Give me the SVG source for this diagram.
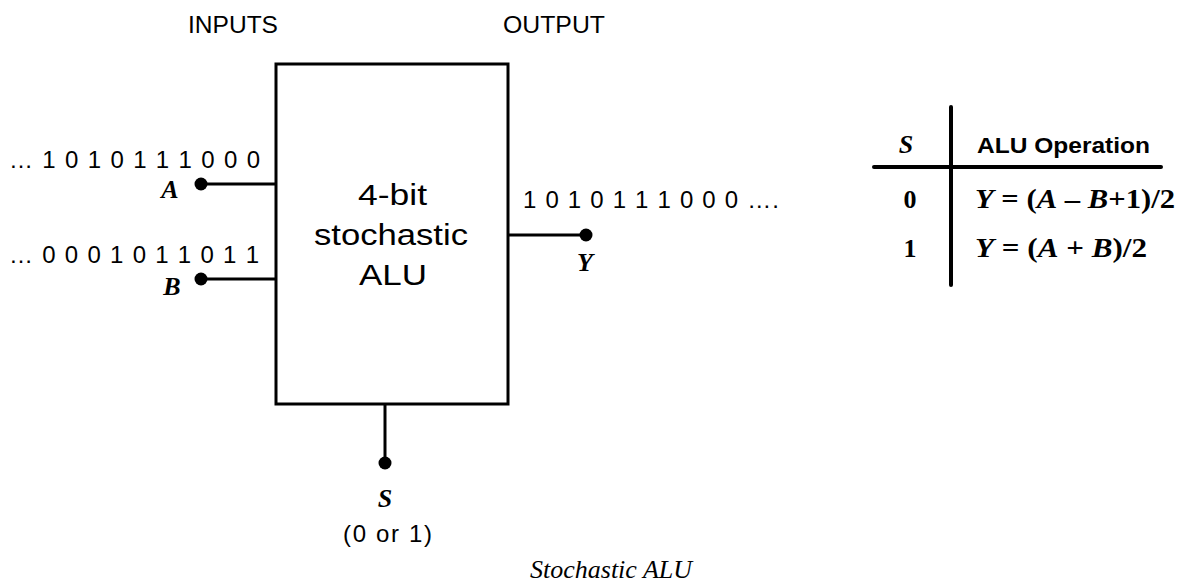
<svg xmlns="http://www.w3.org/2000/svg" width="1184" height="584" viewBox="0 0 1184 584">
  <style>
    .sans { font-family: "Liberation Sans", Arial, sans-serif; fill: #000; }
    .serif { font-family: "Liberation Serif", "Times New Roman", serif; fill: #000; }
    .bits { font-size: 24px; }
    .lbl { font-size: 26px; font-weight: bold; font-style: italic; }
    .wire { stroke: #000; stroke-width: 3; fill: none; }
    .rule { stroke: #000; stroke-width: 4; stroke-linecap: round; fill: none; }
    .dot { fill: #000; }
  </style>

  <!-- headings -->
  <text class="sans" x="188" y="33" font-size="24" textLength="90" lengthAdjust="spacingAndGlyphs">INPUTS</text>
  <text class="sans" x="503" y="33" font-size="24" textLength="102" lengthAdjust="spacingAndGlyphs">OUTPUT</text>

  <!-- ALU block -->
  <g id="alu">
    <rect x="276" y="64" width="232" height="340" fill="#fff" stroke="#000" stroke-width="3"/>
    <text class="sans" x="358" y="205" font-size="29" textLength="69" lengthAdjust="spacingAndGlyphs">4-bit</text>
    <text class="sans" x="314" y="245" font-size="29" textLength="154" lengthAdjust="spacingAndGlyphs">stochastic</text>
    <text class="sans" x="359" y="285" font-size="29" textLength="68" lengthAdjust="spacingAndGlyphs">ALU</text>
  </g>

  <!-- ports and wires -->
  <g id="connectors">
    <line class="wire" x1="201" y1="184" x2="276" y2="184"/>
    <line class="wire" x1="201" y1="279" x2="276" y2="279"/>
    <line class="wire" x1="508" y1="235" x2="586" y2="235"/>
    <line class="wire" x1="385" y1="404" x2="385" y2="463"/>
  </g>

  <g id="input-a">
    <circle class="dot" cx="201" cy="184" r="6.5"/>
    <text class="sans bits" x="9" y="168" textLength="251" lengthAdjust="spacing">… 1 0 1 0 1 1 1 0 0 0</text>
    <text class="serif lbl" x="170" y="198" text-anchor="middle">A</text>
  </g>

  <g id="input-b">
    <circle class="dot" cx="201" cy="279" r="6.5"/>
    <text class="sans bits" x="9" y="263" textLength="250" lengthAdjust="spacing">… 0 0 0 1 0 1 1 0 1 1</text>
    <text class="serif lbl" x="172" y="295" text-anchor="middle">B</text>
  </g>

  <g id="output-y">
    <circle class="dot" cx="586" cy="235" r="6.5"/>
    <text class="sans bits" x="523" y="208" textLength="256" lengthAdjust="spacing">1 0 1 0 1 1 1 0 0 0 ….</text>
    <text class="serif lbl" x="585" y="271" text-anchor="middle">Y</text>
  </g>

  <g id="select-s">
    <circle class="dot" cx="385" cy="463" r="6.5"/>
    <text class="serif lbl" x="385" y="507" text-anchor="middle">S</text>
    <text class="sans" x="343" y="542" font-size="24" textLength="89" lengthAdjust="spacing">(0 or 1)</text>
  </g>

  <!-- operation table -->
  <g id="table">
    <line class="rule" x1="951" y1="107" x2="951" y2="285"/>
    <line class="rule" x1="874" y1="167" x2="1161" y2="167"/>
    <text class="serif lbl" x="906" y="153" text-anchor="middle">S</text>
    <text class="sans" x="977" y="153" font-size="22" font-weight="bold" textLength="173" lengthAdjust="spacingAndGlyphs">ALU Operation</text>
    <text class="serif" x="910" y="208" font-size="26" font-weight="bold" text-anchor="middle">0</text>
    <text class="serif" x="975" y="208" font-size="27" font-weight="bold" textLength="200" lengthAdjust="spacingAndGlyphs"><tspan font-style="italic">Y</tspan> = (<tspan font-style="italic">A</tspan> – <tspan font-style="italic">B</tspan>+1)/2</text>
    <text class="serif" x="910" y="257" font-size="26" font-weight="bold" text-anchor="middle">1</text>
    <text class="serif" x="975" y="257" font-size="27" font-weight="bold" textLength="172" lengthAdjust="spacingAndGlyphs"><tspan font-style="italic">Y</tspan> = (<tspan font-style="italic">A</tspan> + <tspan font-style="italic">B</tspan>)/2</text>
  </g>

  <!-- caption -->
  <text class="serif" x="530" y="578" font-size="26" font-style="italic">Stochastic ALU</text>
</svg>
